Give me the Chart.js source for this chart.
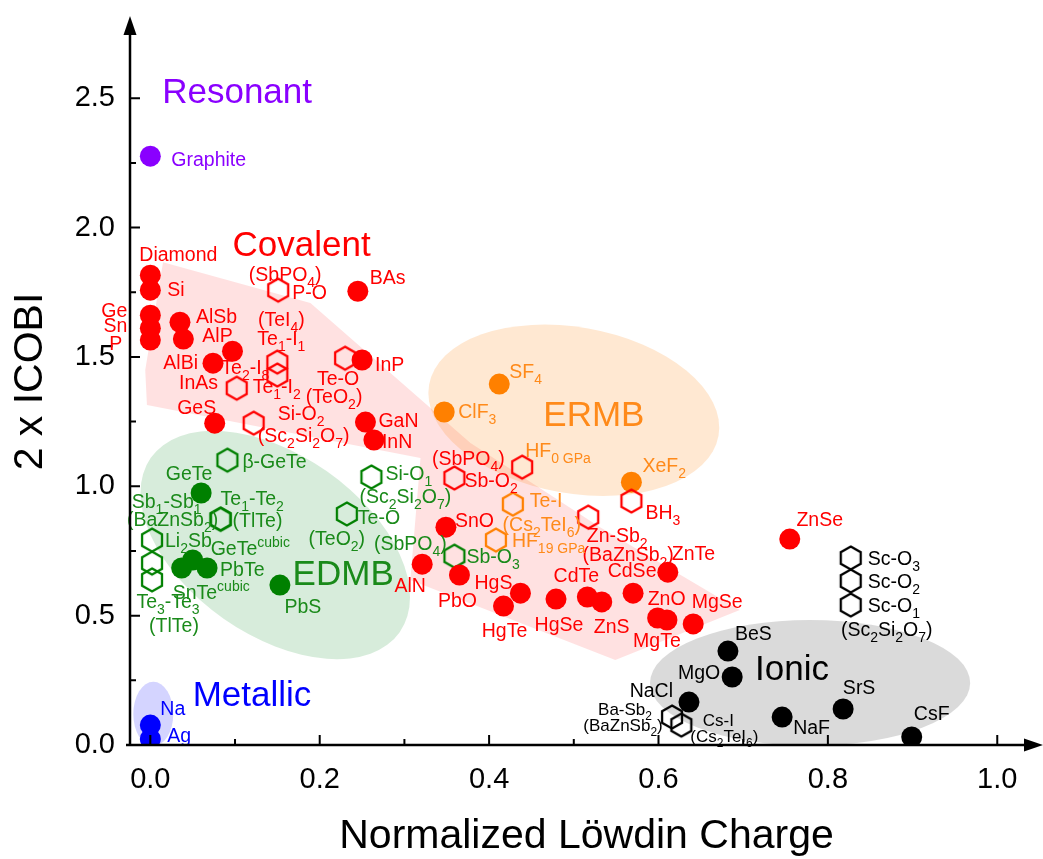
<!DOCTYPE html>
<html lang="en">
<head>
<meta charset="UTF-8">
<title>ICOBI vs Löwdin charge</title>
<style>
  body { margin: 0; background: #fff; }
  canvas { display: block; }
</style>
</head>
<body>
<canvas id="bondChart" width="1043" height="859"></canvas>
<script src="https://cdn.jsdelivr.net/npm/chart.js@4.4.9/dist/chart.umd.min.js"></script>
<script>
const FONT = '"Liberation Sans", Arial, sans-serif';

// axis ticks
const xTicks = [0, 0.2, 0.4, 0.6, 0.8, 1.0];
const yTicks = [0, 0.5, 1.0, 1.5, 2.0, 2.5];
const xMinor = [0.1, 0.3, 0.5, 0.7, 0.9];
const yMinor = [0.25, 0.75, 1.25, 1.75, 2.25];

// resonant
const resName = ['Graphite'];
const resX = [0];
const resY = [2.276];

// covalent, filled circles
const covName = ['Diamond', 'Si', 'Ge', 'Sn', 'P', 'AlSb', 'AlP', 'AlBi', 'InAs', 'BAs', 'InP', 'GeS', 'GaN', 'InN',
  'SnO', 'AlN', 'PbO', 'HgS', 'HgTe', 'HgSe', 'CdTe', 'ZnS', 'CdSe', 'ZnTe', 'ZnO', 'MgTe', 'MgSe', 'ZnSe'];
const covX = [0, 0, 0, 0, 0, 0.035, 0.039, 0.074, 0.097, 0.245, 0.250, 0.076, 0.254, 0.264,
  0.349, 0.321, 0.365, 0.437, 0.417, 0.479, 0.516, 0.533, 0.570, 0.611, 0.599, 0.610, 0.641, 0.755];
const covY = [1.816, 1.758, 1.661, 1.611, 1.565, 1.634, 1.569, 1.476, 1.522, 1.754, 1.488, 1.244, 1.248, 1.179,
  0.842, 0.699, 0.657, 0.587, 0.537, 0.564, 0.572, 0.553, 0.587, 0.668, 0.491, 0.483, 0.468, 0.796];

// covalent, bonds in molecules/crystals (hexagons)
const covHexName = ['P-O', 'Te1-I1', 'Te2-I8', 'Te1-I2', 'Te-O', 'Si-O2', 'Sb-O2', 'HF 0 GPa', 'Zn-Sb2', 'BH3'];
const covHexX = [0.151, 0.150, 0.150, 0.102, 0.230, 0.122, 0.359, 0.439, 0.517, 0.568];
const covHexY = [1.758, 1.480, 1.430, 1.379, 1.495, 1.244, 1.032, 1.074, 0.881, 0.943];

// ERMB
const ermbName = ['SF4', 'ClF3', 'XeF2'];
const ermbX = [0.412, 0.347, 0.568];
const ermbY = [1.395, 1.287, 1.016];
const ermbHexName = ['Te-I', 'HF 19 GPa'];
const ermbHexX = [0.428, 0.408];
const ermbHexY = [0.931, 0.792];

// EDMB
const edmbName = ['GeTe', 'GeTe cubic', 'PbTe', 'SnTe cubic', 'PbS'];
const edmbX = [0.060, 0.050, 0.067, 0.037, 0.153];
const edmbY = [0.974, 0.715, 0.684, 0.684, 0.618];
const edmbHexName = ['β-GeTe', 'Te1-Te2', 'Sb1-Sb1', 'Li2Sb', 'Te3-Te3', 'Te3-Te3', 'Si-O1', 'Te-O', 'Sb-O3'];
const edmbHexX = [0.091, 0.083, 0.083, 0.002, 0.002, 0.002, 0.261, 0.232, 0.359];
const edmbHexY = [1.101, 0.873, 0.873, 0.792, 0.703, 0.638, 1.036, 0.893, 0.730];

// ionic
const ionName = ['BeS', 'MgO', 'NaCl', 'NaF', 'SrS', 'CsF'];
const ionX = [0.682, 0.687, 0.636, 0.746, 0.818, 0.899];
const ionY = [0.363, 0.263, 0.166, 0.108, 0.139, 0.031];
const ionHexName = ['Ba-Sb2', 'Cs-I', 'Sc-O3', 'Sc-O2', 'Sc-O1'];
const ionHexX = [0.616, 0.627, 0.827, 0.827, 0.827];
const ionHexY = [0.108, 0.077, 0.723, 0.634, 0.541];

// metallic
const metName = ['Na', 'Ag'];
const metX = [0, 0];
const metY = [0.077, 0.023];

// label placement, pixel offsets from the marker: [text, dx, dy, align, size?, color?]
const resLbl = [[['Graphite', 21, 3, 'l']]];
const covLbl = [
  [['Diamond', 28, -21, 'c']], [['Si', 17, -1, 'l']], [['Ge', -23, -5, 'r']], [['Sn', -23, -3, 'r']], [['P', -28, 3, 'r']],
  [['AlSb', 16, -6, 'l']], [['AlP', 19, -4, 'l']], [['AlBi', -15, -1, 'r']], [['InAs', -34, 31, 'c']],
  [['BAs', 12, -14, 'l']], [['InP', 13, 4, 'l']], [['GeS', -18, -16, 'c']], [['GaN', 13, -2, 'l']], [['InN', 8, 1, 'l']],
  [['SnO', 9, -7, 'l']], [['AlN', -12, 21, 'c']], [['PbO', -2, 25, 'c']], [['HgS', -8, -11, 'r']], [['HgTe', 1, 24, 'c']],
  [['HgSe', 3, 25, 'c']], [['CdTe', -11, -22, 'c']], [['ZnS', 10, 24, 'c']], [['CdSe', -1, -23, 'c']], [['ZnTe', 4, -19, 'l']],
  [['ZnO', 9, -20, 'c']], [['MgTe', -10, 20, 'c']], [['MgSe', 24, -23, 'c']], [['ZnSe', 30, -20, 'c']]
];
const covHexLbl = [
  [['P-O', 14, 2, 'l'], ['(SbPO_4)', 7, -16, 'c']],
  [['(TeI_4)', 4, -43, 'c'], ['Te_1-I_1', 4, -24, 'c']],
  [['Te_2-I_8', -8, -8, 'r']],
  [['Te_1-I_2', 16, -2, 'l']],
  [['Te-O', -7, 20, 'c'], ['(TeO_2)', -11, 38, 'c']],
  [['Si-O_2', 24, -10, 'l'], ['(Sc_2Si_2O_7)', 50, 12, 'c']],
  [['Sb-O_2', 10, 2, 'l'], ['(SbPO_4)', 14, -20, 'c']],
  [['HF_{0 GPa}', 3, -17, 'l', 19.5, '#ff8a1a']],
  [['Zn-Sb_2', 29, 18, 'c'], ['(BaZnSb_2)', 40, 37, 'c']],
  [['BH_3', 14, 11, 'l']]
];
const ermbLbl = [[['SF_4', 10, -13, 'l']], [['ClF_3', 14, -1, 'l']], [['XeF_2', 11, -17, 'l']]];
const ermbHexLbl = [[['Te-I', 17, -4, 'l'], ['(Cs_2TeI_6)', 29, 20, 'c']], [['HF_{19 GPa}', 16, 0, 'l']]];
const edmbLbl = [[['GeTe', -12, -20, 'c']], [['GeTe^{cubic}', 18, -12, 'l']], [['PbTe', 13, 1, 'l']],
  [['SnTe^{cubic}', -9, 24, 'l']], [['PbS', 23, 21, 'c']]];
const edmbHexLbl = [
  [['β-GeTe', 15, 1, 'l']],
  [['Te_1-Te_2', 0, -21, 'l'], ['(TlTe)', 12, 1, 'l']],
  [['Sb_1-Sb_1', -54, -18, 'c'], ['(BaZnSb_2)', -48, 0, 'c']],
  [['Li_2Sb', 13, 0, 'l']],
  [],
  [['Te_3-Te_3', 16, 21, 'c'], ['(TlTe)', 22, 45, 'c']],
  [['Si-O_1', 14, -4, 'l'], ['(Sc_2Si_2O_7)', 34, 19, 'c']],
  [['Te-O', 11, 3, 'l'], ['(TeO_2)', -10, 24, 'c']],
  [['Sb-O_3', 12, 0, 'l'], ['(SbPO_4)', -44, -13, 'c']]
];
const ionLbl = [[['BeS', 7, -18, 'l']], [['MgO', -12, -5, 'r']], [['NaCl', -16, -12, 'r']], [['NaF', 11, 10, 'l']],
  [['SrS', 16, -22, 'c']], [['CsF', 20, -24, 'c']]];
const ionHexLbl = [
  [['Ba-Sb_2', -47, -8, 'c', 17], ['(BaZnSb_2)', -49, 8, 'c', 17]],
  [['Cs-I', 37, -5, 'c', 17], ['(Cs_2TeI_6)', 43, 11, 'c', 17]],
  [['Sc-O_3', 17, 0, 'l']], [['Sc-O_2', 17, 0, 'l']],
  [['Sc-O_1', 17, 0, 'l'], ['(Sc_2Si_2O_7)', 36, 24, 'c']]
];
const metLbl = [[['Na', 10, -17, 'l']], [['Ag', 17, -4, 'l']]];

// class titles (data coords, left edge / middle)
const className = ['Resonant', 'Covalent', 'ERMB', 'EDMB', 'Metallic', 'Ionic'];
const classX = [0.014, 0.097, 0.464, 0.168, 0.050, 0.714];
const classY = [2.531, 1.940, 1.283, 0.668, 0.201, 0.301];
const classColor = ['#8a00ff', '#ff0000', '#ff8a1a', '#1a8a1a', '#0000ff', '#000000'];

// shaded regions
const covZoneX = [0.015, 0.189, 0.378, 0.531, 0.696, 0.549, 0.307, 0.319, -0.004, -0.006];
const covZoneY = [1.866, 1.708, 1.167, 0.842, 0.522, 0.329, 0.638, 1.109, 1.314, 1.449];
// ellipses: centre x, centre y, radius x, radius y (data units), tilt in degrees
const ellipses = [
  { cx: 0.500, cy: 1.294, rx: 0.1735, ry: 0.321, tilt: 10, fill: 'rgba(255,140,30,0.2)' },
  { cx: 0.1475, cy: 0.773, rx: 0.1794, ry: 0.348, tilt: 35, fill: 'rgba(20,140,40,0.17)' },
  { cx: 0.779, cy: 0.240, rx: 0.189, ry: 0.243, tilt: 0, fill: 'rgba(150,150,150,0.35)' },
  { cx: 0.0035, cy: 0.120, rx: 0.0236, ry: 0.124, tilt: 0, fill: 'rgba(40,40,255,0.2)' }
];

const RED = '#ff0000', ORANGE = '#ff8000', GREEN = '#008000', BLACK = '#000000', BLUE = '#0000ff', PURPLE = '#8a00ff';
const GREEN_TXT = '#1a8a1a', ORANGE_TXT = '#ff8a1a';
const LABEL_SIZE = 19.5;

function hexImage(color) {
  const R = 11.5, c = document.createElement('canvas');
  c.width = 30; c.height = 30;
  const g = c.getContext('2d');
  g.translate(15, 15);
  g.beginPath();
  for (let k = 0; k < 6; k++) {
    const a = Math.PI / 180 * (60 * k - 90);
    g.lineTo(R * Math.cos(a), R * Math.sin(a));
  }
  g.closePath();
  g.strokeStyle = color;
  g.lineWidth = 2.3;
  g.stroke();
  return c;
}

const groups = [
  { names: covName, xs: covX, ys: covY, hex: false, color: RED, txt: RED, lbl: covLbl },
  { names: covHexName, xs: covHexX, ys: covHexY, hex: true, color: RED, txt: RED, lbl: covHexLbl },
  { names: ermbName, xs: ermbX, ys: ermbY, hex: false, color: ORANGE, txt: ORANGE_TXT, lbl: ermbLbl },
  { names: ermbHexName, xs: ermbHexX, ys: ermbHexY, hex: true, color: ORANGE, txt: ORANGE_TXT, lbl: ermbHexLbl },
  { names: edmbHexName, xs: edmbHexX, ys: edmbHexY, hex: true, color: GREEN, txt: GREEN_TXT, lbl: edmbHexLbl },
  { names: edmbName, xs: edmbX, ys: edmbY, hex: false, color: GREEN, txt: GREEN_TXT, lbl: edmbLbl },
  { names: ionHexName, xs: ionHexX, ys: ionHexY, hex: true, color: BLACK, txt: BLACK, lbl: ionHexLbl },
  { names: ionName, xs: ionX, ys: ionY, hex: false, color: BLACK, txt: BLACK, lbl: ionLbl },
  { names: metName, xs: metX, ys: metY, hex: false, color: BLUE, txt: BLUE, lbl: metLbl },
  { names: resName, xs: resX, ys: resY, hex: false, color: PURPLE, txt: PURPLE, lbl: resLbl }
];

const datasets = groups.map(g => ({
  label: g.names[0],
  data: g.names.map((n, i) => ({ x: g.xs[i], y: g.ys[i], name: n })),
  pointStyle: g.hex ? hexImage(g.color) : 'circle',
  pointRadius: 10.5,
  backgroundColor: g.color,
  borderWidth: 0
}));

// text with _sub and ^sup parts
function parseRich(s) {
  const segs = [];
  let buf = '', i = 0;
  while (i < s.length) {
    const c = s[i];
    if (c === '_' || c === '^') {
      if (buf) { segs.push({ t: buf, m: 'n' }); buf = ''; }
      let t;
      if (s[i + 1] === '{') { const j = s.indexOf('}', i); t = s.slice(i + 2, j); i = j + 1; }
      else { t = s[i + 1]; i += 2; }
      segs.push({ t, m: c === '_' ? 'sub' : 'sup' });
    } else { buf += c; i++; }
  }
  if (buf) segs.push({ t: buf, m: 'n' });
  return segs;
}

function drawRich(ctx, s, x, y, align, size, color) {
  const segs = parseRich(s);
  const fontFor = m => (m === 'n' ? size : Math.round(size * 0.72)) + 'px ' + FONT;
  let w = 0;
  segs.forEach(g => { ctx.font = fontFor(g.m); g.w = ctx.measureText(g.t).width; w += g.w; });
  let cx = align === 'l' ? x : align === 'r' ? x - w : x - w / 2;
  ctx.fillStyle = color;
  ctx.textAlign = 'left';
  ctx.textBaseline = 'alphabetic';
  const base = y + size * 0.36;
  segs.forEach(g => {
    ctx.font = fontFor(g.m);
    const dy = g.m === 'sub' ? size * 0.3 : g.m === 'sup' ? -size * 0.4 : 0;
    ctx.fillText(g.t, cx, base + dy);
    cx += g.w;
  });
}

const regionsPlugin = {
  id: 'regions',
  beforeDatasetsDraw(chart) {
    const { ctx, chartArea: a, scales: { x, y } } = chart;
    ctx.save();
    ctx.beginPath();
    ctx.rect(a.left, a.top, a.right - a.left, a.bottom - a.top);
    ctx.clip();
    ctx.beginPath();
    covZoneX.forEach((v, i) => ctx.lineTo(x.getPixelForValue(v), y.getPixelForValue(covZoneY[i])));
    ctx.closePath();
    ctx.fillStyle = 'rgba(255,40,40,0.14)';
    ctx.fill();
    ellipses.forEach(e => {
      const cx = x.getPixelForValue(e.cx), cy = y.getPixelForValue(e.cy);
      const rx = Math.abs(x.getPixelForValue(e.cx + e.rx) - cx);
      const ry = Math.abs(y.getPixelForValue(e.cy + e.ry) - cy);
      ctx.beginPath();
      ctx.ellipse(cx, cy, rx, ry, e.tilt * Math.PI / 180, 0, 2 * Math.PI);
      ctx.fillStyle = e.fill;
      ctx.fill();
    });
    ctx.restore();
  }
};

const labelsPlugin = {
  id: 'labels',
  afterDatasetsDraw(chart) {
    const { ctx, scales: { x, y } } = chart;
    ctx.save();
    groups.forEach(g => {
      g.names.forEach((n, i) => {
        const px = x.getPixelForValue(g.xs[i]), py = y.getPixelForValue(g.ys[i]);
        (g.lbl[i] || []).forEach(l => {
          drawRich(ctx, l[0], px + l[1], py + l[2], l[3], l[4] || LABEL_SIZE, l[5] || g.txt);
        });
      });
    });
    className.forEach((n, i) => {
      drawRich(ctx, n, x.getPixelForValue(classX[i]), y.getPixelForValue(classY[i]), 'l', 35, classColor[i]);
    });
    ctx.restore();
  }
};

const axesPlugin = {
  id: 'axes',
  afterDraw(chart) {
    const { ctx, chartArea: a, scales: { x, y } } = chart;
    ctx.save();
    ctx.strokeStyle = '#000';
    ctx.fillStyle = '#000';
    ctx.lineWidth = 2.5;
    ctx.beginPath();
    ctx.moveTo(a.left, a.bottom + 1);
    ctx.lineTo(a.left, a.top + 10);
    ctx.moveTo(a.left - 4, a.bottom);
    ctx.lineTo(a.right - 10, a.bottom);
    ctx.stroke();
    // arrow heads
    ctx.beginPath();
    ctx.moveTo(a.left, a.top - 2);
    ctx.lineTo(a.left - 6.5, a.top + 17);
    ctx.lineTo(a.left + 6.5, a.top + 17);
    ctx.closePath();
    ctx.fill();
    ctx.beginPath();
    ctx.moveTo(a.right, a.bottom);
    ctx.lineTo(a.right - 19, a.bottom - 6.5);
    ctx.lineTo(a.right - 19, a.bottom + 6.5);
    ctx.closePath();
    ctx.fill();
    // inward ticks
    ctx.lineWidth = 2;
    ctx.beginPath();
    xTicks.forEach(v => { const p = x.getPixelForValue(v); ctx.moveTo(p, a.bottom); ctx.lineTo(p, a.bottom - 10); });
    xMinor.forEach(v => { const p = x.getPixelForValue(v); ctx.moveTo(p, a.bottom); ctx.lineTo(p, a.bottom - 6); });
    yTicks.forEach(v => { const p = y.getPixelForValue(v); ctx.moveTo(a.left, p); ctx.lineTo(a.left + 10, p); });
    yMinor.forEach(v => { const p = y.getPixelForValue(v); ctx.moveTo(a.left, p); ctx.lineTo(a.left + 6, p); });
    ctx.stroke();
    // axis titles
    ctx.font = '41px ' + FONT;
    ctx.textAlign = 'center';
    ctx.textBaseline = 'middle';
    ctx.fillText('Normalized Lӧwdin Charge', (a.left + a.right) / 2, 837);
    ctx.translate(31, (a.top + a.bottom) / 2);
    ctx.rotate(-Math.PI / 2);
    ctx.fillText('2 x ICOBI', 0, 0);
    ctx.restore();
  }
};

const tickFont = { family: FONT, size: 29 };

new Chart(document.getElementById('bondChart').getContext('2d'), {
  type: 'scatter',
  data: { datasets },
  options: {
    responsive: false,
    animation: false,
    layout: { autoPadding: false, padding: { top: 18, right: 0, left: 0, bottom: 0 } },
    plugins: { legend: { display: false }, tooltip: { enabled: false } },
    scales: {
      x: {
        type: 'linear',
        min: -0.024,
        max: 1.054,
        afterBuildTicks: s => { s.ticks = xTicks.map(v => ({ value: v })); },
        afterFit: s => { s.height = 114; s.paddingLeft = 0; s.paddingRight = 0; },
        grid: { display: false, drawTicks: false },
        border: { display: false },
        ticks: { font: tickFont, color: '#000', padding: 18, callback: v => v.toFixed(1) }
      },
      y: {
        type: 'linear',
        min: 0,
        max: 2.81,
        afterBuildTicks: s => { s.ticks = yTicks.map(v => ({ value: v })); },
        afterFit: s => { s.width = 130; s.paddingTop = 0; s.paddingBottom = 0; },
        grid: { display: false, drawTicks: false },
        border: { display: false },
        ticks: { font: tickFont, color: '#000', padding: 15, callback: v => v.toFixed(1) }
      }
    }
  },
  plugins: [regionsPlugin, labelsPlugin, axesPlugin]
});
</script>
</body>
</html>
